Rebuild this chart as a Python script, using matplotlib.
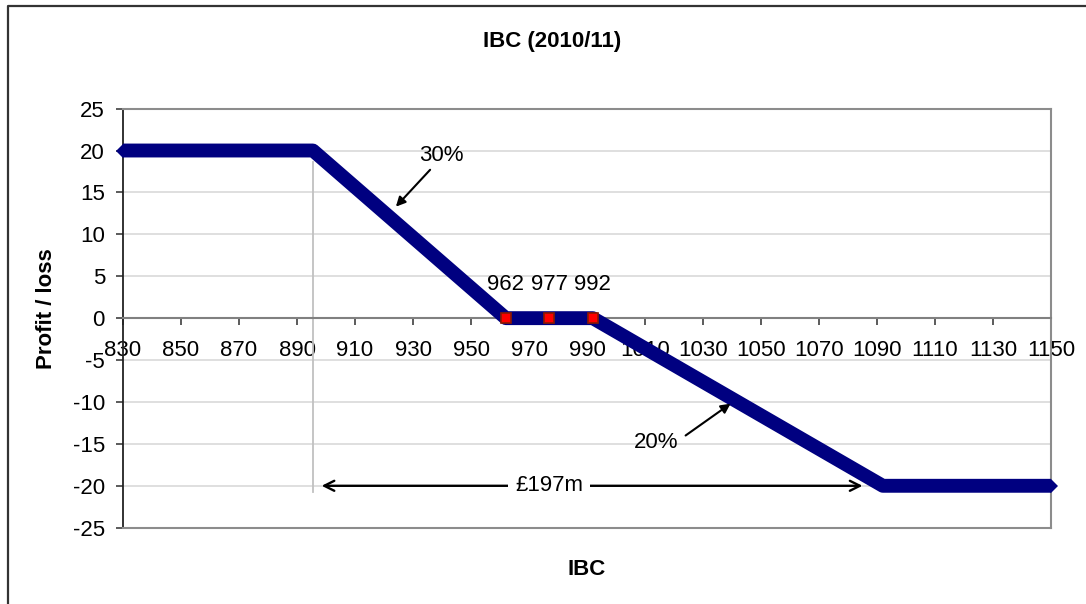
import matplotlib
matplotlib.use("Agg")
import matplotlib.pyplot as plt
from matplotlib.lines import Line2D

plt.rcParams['font.family'] = ['Liberation Sans', 'DejaVu Sans']
plt.rcParams['axes.unicode_minus'] = False

# ---- data ----
title = "IBC (2010/11)"
x_label = "IBC"
y_label = "Profit / loss"

payoff_x = [830, 895.5, 962, 992, 1092, 1150]   # vertices of the profit/loss profile
payoff_y = [20, 20, 0, 0, -20, -20]

breakeven_x = [962, 977, 992]
breakeven_y = [0, 0, 0]
breakeven_labels = ["962", "977", "992"]

x_ticks = list(range(830, 1151, 20))
y_ticks = list(range(-25, 26, 5))

# (text, text position, arrow tail, arrow tip)
slope_notes = [("30%", (939.7, 19.4), (935.9, 17.7), (924.1, 13.3)),
               ("20%", (1013.8, -14.8), (1024.0, -14.0), (1039.5, -10.2))]
range_start, range_end, range_y = 895.5, 1092, -20
range_text = "£197m"
range_text_x = 977

# ---- figure ----
fig = plt.figure(figsize=(10.86, 6.04), dpi=100)
ax = fig.add_axes([123/1086, 1 - 527.7/604, (1051 - 123)/1086, (527.7 - 108.6)/604])

ax.set_xlim(830, 1150)
ax.set_ylim(-25, 25)
ax.set_xticks(x_ticks)
ax.set_yticks(y_ticks)

ax.yaxis.grid(True, color='#d9d9d9', lw=1.2, zorder=0)
ax.set_axisbelow(True)

ax.spines['bottom'].set_position(('data', 0))
ax.spines['bottom'].set_color('#808080')
ax.spines['bottom'].set_linewidth(1.5)
for s in ['top', 'right']:
    ax.spines[s].set_color('#8c8c8c')
    ax.spines[s].set_linewidth(1.5)
ax.spines['left'].set_color('#222222')
ax.spines['left'].set_linewidth(1.3)
# plot-area bottom border
ax.plot([0, 1], [0, 0], transform=ax.transAxes, color='#8c8c8c', lw=1.5,
        clip_on=False, zorder=3)

ax.tick_params(axis='x', direction='out', length=5, width=1.2, color='#404040',
               labelsize=16, pad=11)
ax.tick_params(axis='y', direction='out', length=5, width=1.2, color='#404040',
               labelsize=16, pad=8)

# vertical reference line
ax.plot([range_start, range_start], [18.6, -20.7], color='#c0c0c0', lw=1.3, zorder=2)

# payoff profile
ax.plot(payoff_x, payoff_y, color='#000080', lw=10, solid_joinstyle='round',
        solid_capstyle='butt', marker='D', markersize=7.5, markevery=[0, len(payoff_x) - 1],
        markeredgewidth=0, zorder=4, clip_on=False)

# breakeven markers and labels
ax.plot(breakeven_x, breakeven_y, linestyle='none', marker='s', markersize=7,
        markerfacecolor='#ff0000', markeredgecolor='#8b1a00', markeredgewidth=1.2, zorder=5)
for bx, by, lab in zip(breakeven_x, breakeven_y, breakeven_labels):
    ax.annotate(lab, xy=(bx, by), xytext=(0, 24), textcoords='offset points',
                ha='center', va='center', fontsize=16, zorder=6)

# slope annotations
for txt, pos, tail, tip in slope_notes:
    ax.text(pos[0], pos[1], txt, ha='center', va='center', fontsize=16, zorder=6)
    ax.annotate('', xy=tip, xytext=tail,
                arrowprops=dict(arrowstyle='-|>', color='black', lw=1.5,
                                mutation_scale=14, shrinkA=0, shrinkB=0),
                zorder=6)

# range arrow
ax.annotate('', xy=(range_start + 3, range_y), xytext=(range_end - 7, range_y),
            arrowprops=dict(arrowstyle='<->', color='black', lw=1.7,
                            mutation_scale=18, shrinkA=0, shrinkB=0), zorder=6)
ax.text(range_text_x, range_y, range_text, ha='center', va='center', fontsize=16,
        bbox=dict(facecolor='white', edgecolor='none', pad=5), zorder=7)

# texts
fig.text(552/1086, 1 - 46.7/604, title, ha='center', va='baseline',
         fontsize=16, fontweight='bold')
fig.text(587/1086, 1 - 575/604, x_label, ha='center', va='baseline',
         fontsize=16, fontweight='bold')
fig.text(47/1086, 1 - 309/604, y_label, ha='center', va='center', rotation=90,
         fontsize=16, fontweight='bold')

# outer frame (top and left edges)
fig.add_artist(Line2D([8/1086, 8/1086, 1.0], [0.0, 1 - 5.5/604, 1 - 5.5/604],
                      transform=fig.transFigure, color='#333333', lw=1.6))

fig.savefig('out.png', dpi=100)
